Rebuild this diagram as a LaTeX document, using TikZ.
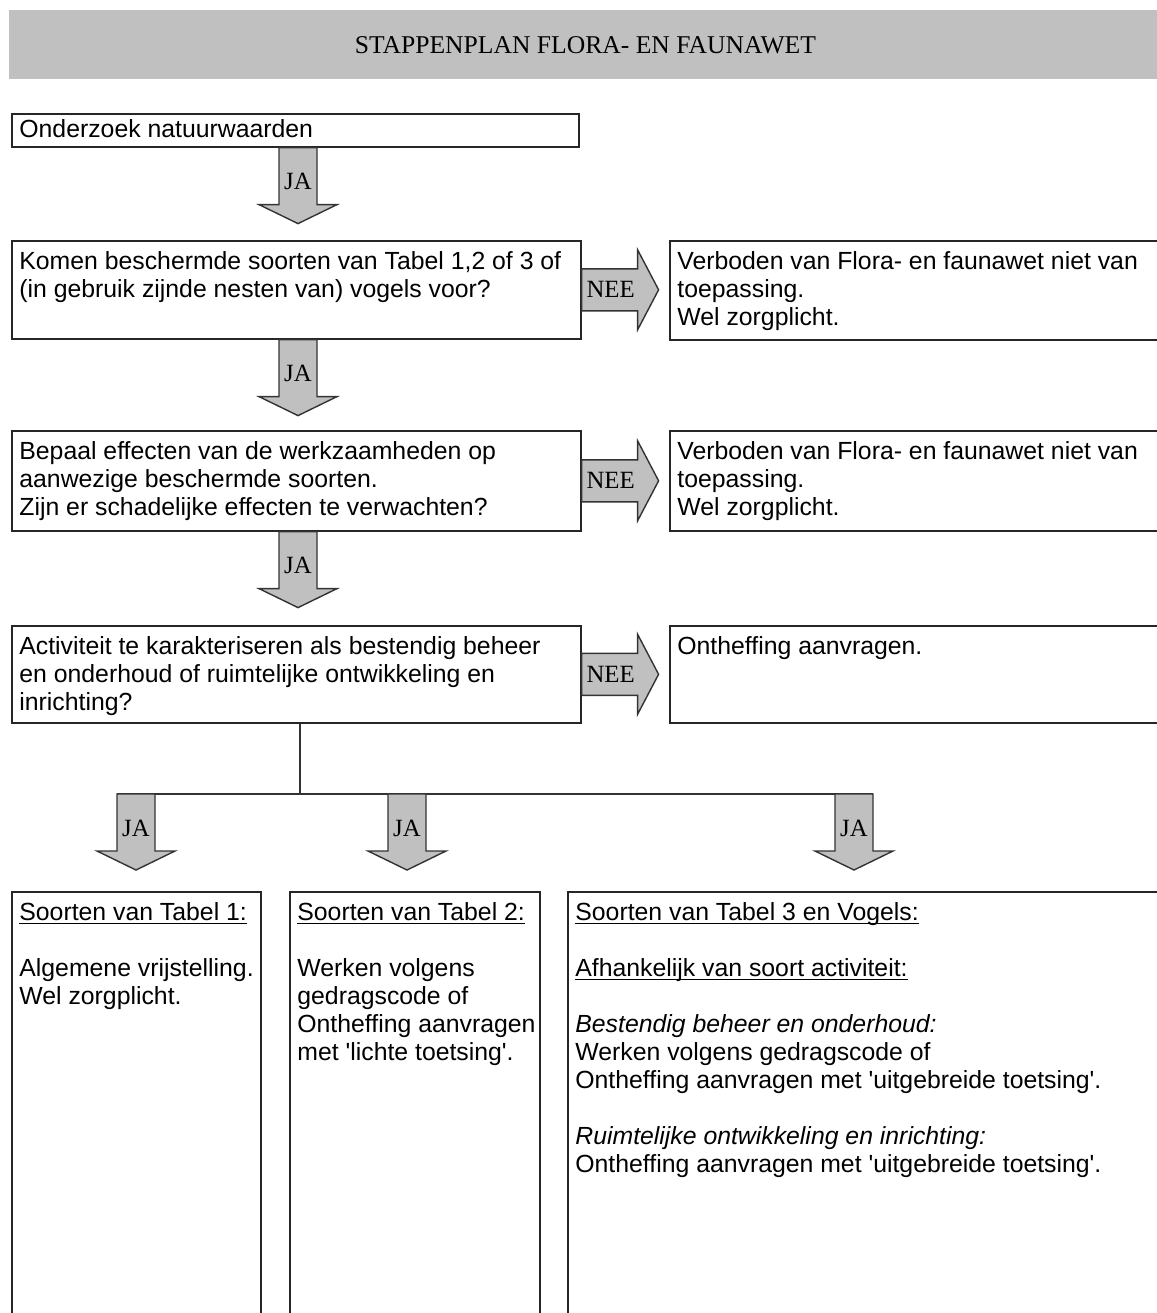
\documentclass[tikz,border=0pt]{standalone}
\usepackage{fontspec}
\setmainfont{Liberation Sans}
\newfontfamily\serieffont{Liberation Serif}
\definecolor{balkgrijs}{HTML}{C0C0C0}
\newcommand{\onderstreept}[1]{\leavevmode\setbox0\hbox{#1}\rlap{\rule[-2pt]{\wd0}{0.6pt}}\box0}
\tikzset{
	kader/.style={draw=black!85,line width=0.8pt,anchor=north west,inner sep=0pt},
	tekst/.style={anchor=north west,align=left,inner xsep=4pt,inner ysep=5.5pt,font=\fontsize{12.4}{14}\selectfont},
	pijl/.style={draw=black!80,line width=0.7pt,fill=balkgrijs,line join=miter},
	pijltekst/.style={inner sep=0pt,font=\serieffont\fontsize{12.4}{14}\selectfont},
}
\begin{document}
\begin{tikzpicture}[x=0.5pt,y=-0.5pt]
	\useasboundingbox (0,0) rectangle (1157,1313);
	\def\JaPijl#1#2{\draw[pijl] (#2) ++(-19,0) -- ++(0,57) -- ++(-20,0) -- ++(39,19) -- ++(39,-19) -- ++(-20,0) -- ++(0,-57) -- cycle;
		\path (#2) ++(0,34) node[pijltekst] (#1) {JA};}
	\def\NeePijl#1#2{\draw[pijl] (#2) ++(0,-21) -- ++(56,0) -- ++(0,-19) -- ++(21,40) -- ++(-21,40) -- ++(0,-19) -- ++(-56,0) -- cycle;
		\path (#2) ++(29,0) node[pijltekst] (#1) {NEE};}
	\node[fill=balkgrijs,anchor=north west,minimum width=576pt,minimum height=34.5pt,inner sep=0pt,font=\serieffont\fontsize{12.8}{14}\selectfont] (titel) at (9,10) {STAPPENPLAN FLORA- EN FAUNAWET};
	\coordinate (midden) at (298,0);
	\coordinate (splits) at (300,794);
	\node[kader,minimum width=283.5pt,minimum height=16.5pt] (onderzoek) at (11,113) {};
	\node[tekst,inner ysep=3pt] (onderzoektekst) at (onderzoek.north west) {Onderzoek natuurwaarden};
	\node[kader,minimum width=284.5pt,minimum height=49pt] (komen) at (11,240) {};
	\node[tekst] (komentekst) at (komen.north west) {Komen beschermde soorten van Tabel 1,2 of 3 of\\(in gebruik zijnde nesten van) vogels voor?};
	\node[kader,minimum width=248pt,minimum height=49.5pt] (nvteen) at (669,240) {};
	\node[tekst] (nvteentekst) at (nvteen.north west) {Verboden van Flora- en faunawet niet van\\toepassing.\\Wel zorgplicht.};
	\node[kader,minimum width=284.5pt,minimum height=50pt] (effecten) at (11,430) {};
	\node[tekst] (effectentekst) at (effecten.north west) {Bepaal effecten van de werkzaamheden op\\aanwezige beschermde soorten.\\Zijn er schadelijke effecten te verwachten?};
	\node[kader,minimum width=248pt,minimum height=50pt] (nvttwee) at (669,430) {};
	\node[tekst] (nvttweetekst) at (nvttwee.north west) {Verboden van Flora- en faunawet niet van\\toepassing.\\Wel zorgplicht.};
	\node[kader,minimum width=284.5pt,minimum height=48.5pt] (activiteit) at (11,625) {};
	\node[tekst] (activiteittekst) at (activiteit.north west) {Activiteit te karakteriseren als bestendig beheer\\en onderhoud of ruimtelijke ontwikkeling en\\inrichting?};
	\node[kader,minimum width=248pt,minimum height=48.5pt] (ontheffing) at (669,625) {};
	\node[tekst] (ontheffingtekst) at (ontheffing.north west) {Ontheffing aanvragen.};
	\node[kader,minimum width=124.5pt,minimum height=214.5pt] (tabeleen) at (11,891) {};
	\node[tekst] (tabeleentekst) at (tabeleen.north west) {\onderstreept{Soorten van Tabel 1:}\\[14pt]Algemene vrijstelling.\\Wel zorgplicht.};
	\node[kader,minimum width=125pt,minimum height=214.5pt] (tabeltwee) at (289,891) {};
	\node[tekst] (tabeltweetekst) at (tabeltwee.north west) {\onderstreept{Soorten van Tabel 2:}\\[14pt]Werken volgens\\gedragscode of\\Ontheffing aanvragen\\met \textquotesingle lichte toetsing\textquotesingle.};
	\node[kader,minimum width=299pt,minimum height=214.5pt] (tabeldrie) at (567,891) {};
	\node[tekst] (tabeldrietekst) at (tabeldrie.north west) {\onderstreept{Soorten van Tabel 3 en Vogels:}\\[14pt]\onderstreept{Afhankelijk van soort activiteit:}\\[14pt]\textit{Bestendig beheer en onderhoud:}\\Werken volgens gedragscode of\\Ontheffing aanvragen met \textquotesingle uitgebreide toetsing\textquotesingle.\\[14pt]\textit{Ruimtelijke ontwikkeling en inrichting:}\\Ontheffing aanvragen met \textquotesingle uitgebreide toetsing\textquotesingle.};
	\JaPijl{jaeen}{onderzoek.south -| midden}
	\JaPijl{jatwee}{komen.south -| midden}
	\JaPijl{jadrie}{effecten.south -| midden}
	\NeePijl{neeeen}{komen.east}
	\NeePijl{neetwee}{effecten.east}
	\NeePijl{needrie}{activiteit.east}
	\draw[line width=0.8pt,draw=black!80] (activiteit.south -| splits) -- (splits);
	\draw[line width=0.8pt,draw=black!80] (117,794) -- (873,794);
	\JaPijl{javier}{136,794}
	\JaPijl{javijf}{407,794}
	\JaPijl{jazes}{854,794}
\end{tikzpicture}
\end{document}
